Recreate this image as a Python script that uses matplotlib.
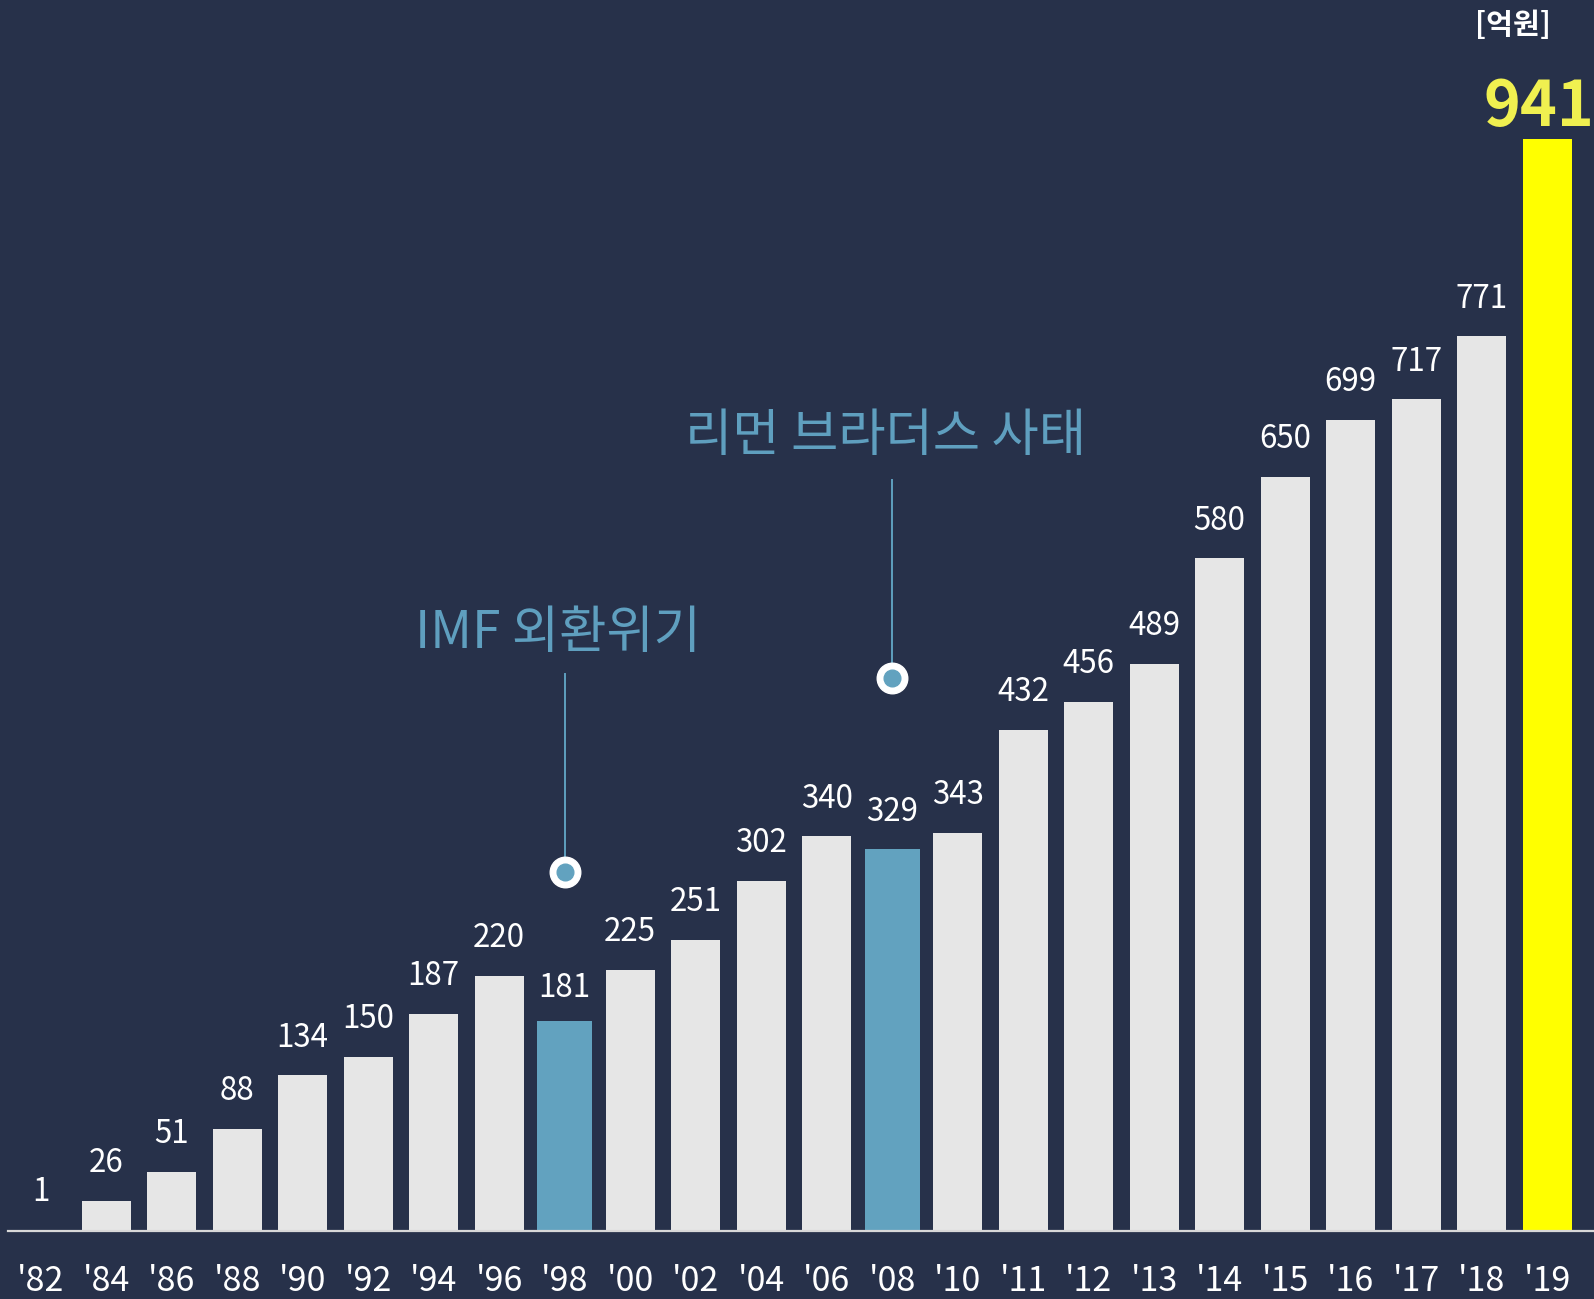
import matplotlib.pyplot as plt

plt.rcParams['font.family'] = ['Noto Sans CJK KR', 'DejaVu Sans']

# data
years = ["'82", "'84", "'86", "'88", "'90", "'92", "'94", "'96", "'98", "'00",
         "'02", "'04", "'06", "'08", "'10", "'11", "'12", "'13", "'14", "'15",
         "'16", "'17", "'18", "'19"]
values = [1, 26, 51, 88, 134, 150, 187, 220, 181, 225,
          251, 302, 340, 329, 343, 432, 456, 489, 580, 650,
          699, 717, 771, 941]
crisis_years = ["'98", "'08"]
crisis_labels = ["IMF 외환위기", "리먼 브라더스 사태"]
unit_label = "[억원]"

bg = '#27314a'
gray = '#e6e6e6'
blue = '#62a2bf'
yellow = '#ffff00'
text_blue = '#5f9fbf'

fig = plt.figure(figsize=(15.94, 12.99), dpi=100, facecolor=bg)
ax = fig.add_axes([0, 0, 1, 1])
ax.set_facecolor(bg)

x = list(range(len(years)))
colors = []
widths = []
for y in years:
    if y in crisis_years:
        colors.append(blue)
        widths.append(0.84)
    elif y == years[-1]:
        colors.append(yellow)
        widths.append(0.745)
    else:
        colors.append(gray)
        widths.append(0.745)

ax.bar(x, values, width=widths, color=colors, zorder=2)
ax.axhline(0, xmin=0.005, xmax=1, color='#d8d8d8', lw=1.6, zorder=3)

ax.set_xlim(-0.621, 23.716)
ax.set_ylim(-58.7, 1061)
ax.axis('off')

# value labels
for i, v in enumerate(values[:-1]):
    off = 24 if years[i] == "'98" else 27
    ax.annotate(str(v), (i, v), xytext=(0, off), textcoords='offset points',
                ha='center', va='center', fontsize=22.5, color='white')
ax.annotate(str(values[-1]), (x[-1], values[-1]), xytext=(-6, 23), textcoords='offset points',
            ha='center', va='center', fontsize=45, fontweight='bold', color='#f0f050')

# year labels
for i, y in enumerate(years):
    ax.text(i, -44, y, ha='center', va='center', fontsize=24.5, color='white')

# crisis annotations
ann = [(years.index(crisis_years[0]), 309, 480, 515),
       (years.index(crisis_years[1]), 477, 647, 685)]
for (i, ydot, ytop, ytxt), label in zip(ann, crisis_labels):
    ax.plot([i, i], [ydot, ytop], color=text_blue, lw=1.4, zorder=3)
    ax.plot(i, ydot, 'o', ms=22, mfc='white', mec='white', zorder=4)
    ax.plot(i, ydot, 'o', ms=12, mfc=blue, mec=blue, zorder=5)
    ax.text(i - 0.1, ytxt, label, ha='center', va='center', fontsize=37, color=text_blue)

fig.text(0.949, 0.981, unit_label, ha='center', va='center', fontsize=21,
         fontweight='bold', color='white')

fig.savefig('out.png', dpi=100, facecolor=bg)
